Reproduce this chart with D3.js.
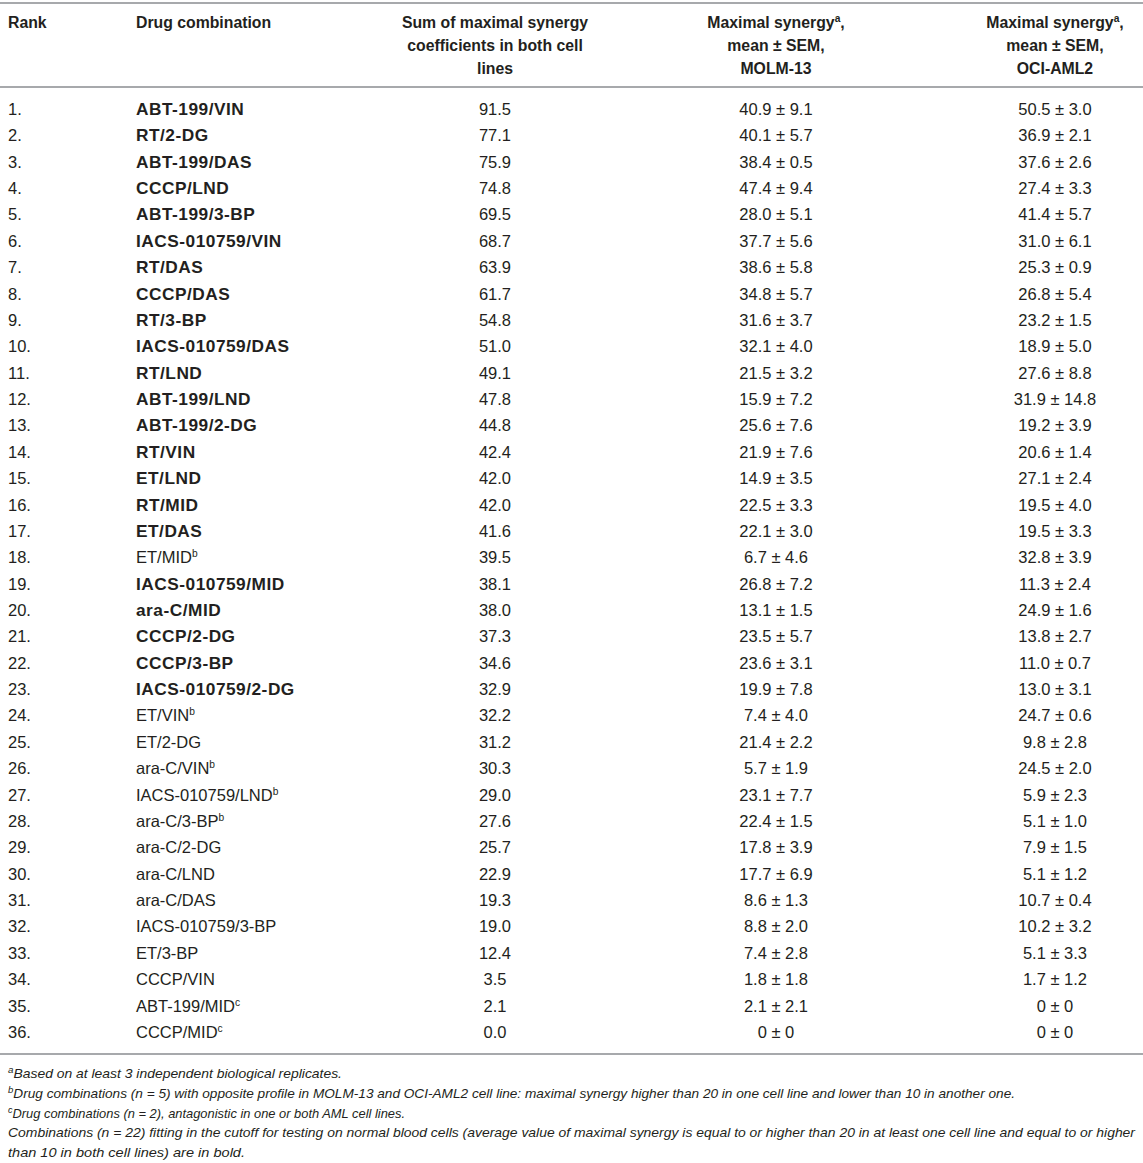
<!DOCTYPE html>
<html>
<head>
<meta charset="utf-8">
<script src="https://cdn.jsdelivr.net/npm/d3@7"></script>
<style>
  body { margin: 0; background: #fff; }
  text { font-family: "Liberation Sans", Arial, Helvetica, sans-serif; fill: #231f20; }
</style>
</head>
<body>
<svg id="svg"></svg>
<script>
const W = 1143, H = 1163

// table data
const ranks = d3.range(1, 37)
const combos = ["ABT-199/VIN","RT/2-DG","ABT-199/DAS","CCCP/LND","ABT-199/3-BP","IACS-010759/VIN","RT/DAS","CCCP/DAS","RT/3-BP","IACS-010759/DAS",
  "RT/LND","ABT-199/LND","ABT-199/2-DG","RT/VIN","ET/LND","RT/MID","ET/DAS","ET/MID","IACS-010759/MID","ara-C/MID",
  "CCCP/2-DG","CCCP/3-BP","IACS-010759/2-DG","ET/VIN","ET/2-DG","ara-C/VIN","IACS-010759/LND","ara-C/3-BP","ara-C/2-DG","ara-C/LND",
  "ara-C/DAS","IACS-010759/3-BP","ET/3-BP","CCCP/VIN","ABT-199/MID","CCCP/MID"]
const marks = ["","","","","","","","","","","","","","","","","","b","","","","","","b","","b","b","b","","","","","","","c","c"]
const bold = [1,1,1,1,1,1,1,1,1,1,1,1,1,1,1,1,1,0,1,1,1,1,1,0,0,0,0,0,0,0,0,0,0,0,0,0]
const sums = [91.5,77.1,75.9,74.8,69.5,68.7,63.9,61.7,54.8,51.0,49.1,47.8,44.8,42.4,42.0,42.0,41.6,39.5,38.1,38.0,
  37.3,34.6,32.9,32.2,31.2,30.3,29.0,27.6,25.7,22.9,19.3,19.0,12.4,3.5,2.1,0.0]
const molmMean = [40.9,40.1,38.4,47.4,28.0,37.7,38.6,34.8,31.6,32.1,21.5,15.9,25.6,21.9,14.9,22.5,22.1,6.7,26.8,13.1,
  23.5,23.6,19.9,7.4,21.4,5.7,23.1,22.4,17.8,17.7,8.6,8.8,7.4,1.8,2.1,0]
const molmSem = [9.1,5.7,0.5,9.4,5.1,5.6,5.8,5.7,3.7,4.0,3.2,7.2,7.6,7.6,3.5,3.3,3.0,4.6,7.2,1.5,
  5.7,3.1,7.8,4.0,2.2,1.9,7.7,1.5,3.9,6.9,1.3,2.0,2.8,1.8,2.1,0]
const ociMean = [50.5,36.9,37.6,27.4,41.4,31.0,25.3,26.8,23.2,18.9,27.6,31.9,19.2,20.6,27.1,19.5,19.5,32.8,11.3,24.9,
  13.8,11.0,13.0,24.7,9.8,24.5,5.9,5.1,7.9,5.1,10.7,10.2,5.1,1.7,0,0]
const ociSem = [3.0,2.1,2.6,3.3,5.7,6.1,0.9,5.4,1.5,5.0,8.8,14.8,3.9,1.4,2.4,4.0,3.3,3.9,2.4,1.6,
  2.7,0.7,3.1,0.6,2.8,2.0,2.3,1.0,1.5,1.2,0.4,3.2,3.3,1.2,0,0]

const headers = [
  ["Rank"],
  ["Drug combination"],
  ["Sum of maximal synergy", "coefficients in both cell", "lines"],
  ["Maximal synergy|a|,", "mean ± SEM,", "MOLM-13"],
  ["Maximal synergy|a|,", "mean ± SEM,", "OCI-AML2"]
]
const footnotes = [
  {mark: "a", text: "Based on at least 3 independent biological replicates.", w: 334},
  {mark: "b", text: "Drug combinations (n = 5) with opposite profile in MOLM-13 and OCI-AML2 cell line: maximal synergy higher than 20 in one cell line and lower than 10 in another one.", w: 1007},
  {mark: "c", text: "Drug combinations (n = 2), antagonistic in one or both AML cell lines.", w: 397},
  {mark: "", text: "Combinations (n = 22) fitting in the cutoff for testing on normal blood cells (average value of maximal synergy is equal to or higher than 20 in at least one cell line and equal to or higher", w: 1127},
  {mark: "", text: "than 10 in both cell lines) are in bold.", w: 237}
]

const f1 = d3.format(".1f")
const pm = (m, s) => `${m === 0 ? "0" : f1(m)} ± ${s === 0 ? "0" : f1(s)}`

const cols = ["rank", "combo", "sum", "molm", "oci"]
const colX = d3.scaleOrdinal(cols, [8, 136, 495, 776, 1055])
const colAnchor = d3.scaleOrdinal(cols, ["start", "start", "middle", "middle", "middle"])
const y = d3.scaleBand(ranks, [95.8, 1045.1])
const FS = 16.5

const svg = d3.select("#svg").attr("width", W).attr("height", H)

// rules
svg.selectAll("line.rule").data([3, 87, 1054]).join("line").attr("class", "rule")
  .attr("x1", 0).attr("x2", W).attr("y1", d => d).attr("y2", d => d)
  .attr("stroke", "#a7a9ac").attr("stroke-width", 2)

// header
const hdr = svg.append("g").attr("font-weight", "bold").attr("font-size", 15.8)
headers.forEach((lines, ci) => {
  lines.forEach((ln, li) => {
    const t = hdr.append("text").attr("x", colX(cols[ci])).attr("y", 28 + li * 23).attr("text-anchor", colAnchor(cols[ci]))
    ln.split("|").forEach((part, pi) => {
      const ts = t.append("tspan").text(part)
      if (pi === 1) ts.attr("font-size", FS * 0.62).attr("dy", -6)
      if (pi === 2) ts.attr("dy", 6)
    })
  })
})

// body rows
const rows = svg.append("g").attr("font-size", FS).selectAll("g").data(ranks).join("g")
  .attr("transform", d => `translate(0,${y(d) + y.bandwidth() / 2 + 6})`)

rows.append("text").attr("x", colX("rank")).text(d => d + ".")
const ct = rows.append("text").attr("x", colX("combo"))
  .attr("font-weight", (d, i) => bold[i] ? "bold" : "normal")
  .attr("font-size", (d, i) => bold[i] ? 17.3 : FS)
  .attr("letter-spacing", (d, i) => bold[i] ? 0.5 : 0)
ct.append("tspan").text((d, i) => combos[i])
ct.append("tspan").attr("font-size", FS * 0.62).attr("dy", -6).text((d, i) => marks[i])
rows.append("text").attr("x", colX("sum")).attr("text-anchor", "middle").text((d, i) => f1(sums[i]))
rows.append("text").attr("x", colX("molm")).attr("text-anchor", "middle").text((d, i) => pm(molmMean[i], molmSem[i]))
rows.append("text").attr("x", colX("oci")).attr("text-anchor", "middle").text((d, i) => pm(ociMean[i], ociSem[i]))

// footnotes
const fy = d3.scalePoint(d3.range(footnotes.length), [1078, 1157])
const fn = svg.append("g").attr("font-style", "italic").attr("font-size", 13.5)
  .selectAll("text").data(footnotes).join("text")
  .attr("x", 8).attr("y", (d, i) => fy(i))
  .attr("textLength", d => d.w).attr("lengthAdjust", "spacingAndGlyphs")
fn.append("tspan").attr("font-size", 9.5).attr("dy", d => d.mark ? -5 : 0).text(d => d.mark)
fn.append("tspan").attr("dy", d => d.mark ? 5 : 0).text(d => d.text)
</script>
</body>
</html>
